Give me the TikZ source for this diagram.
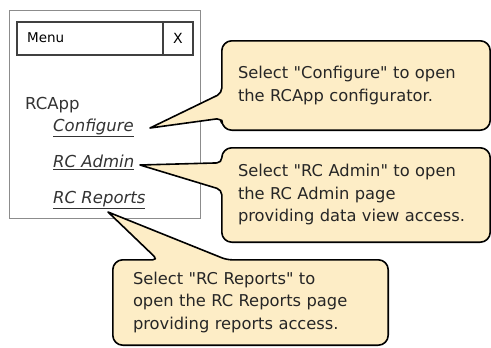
\documentclass[tikz,border=0pt]{standalone}
\usepackage{fontspec}
\setmainfont{DejaVu Sans}[Ligatures=TeXOff]
\usetikzlibrary{backgrounds}
\definecolor{notefill}{HTML}{FDEDC6}
\definecolor{notetext}{HTML}{262626}
\definecolor{framegray}{HTML}{8C8C8C}
\begin{document}
\begin{tikzpicture}[x=1pt,y=-1pt]
    \tikzstyle{every node}+=[inner sep=0pt]
    \tikzstyle{note}=[align=left, inner xsep=16, font=\fontsize{16.3}{22.5}\selectfont, text=notetext]
    \tikzstyle{noteline}=[draw=black, line width=1.6pt, fill=notefill, line join=round]
    \tikzstyle{menuitem}=[anchor=west, font=\fontsize{16.5}{18}\selectfont\itshape, text=black!80]
    \useasboundingbox (0,0) rectangle (491,348);
    % menu window
    \node [anchor=west, font=\fontsize{13.5}{16}\selectfont] (menu) at (27,38) {Menu};
    \node [font=\fontsize{14}{16}\selectfont] (close) at (178,38) {X};
    \node [anchor=west, font=\fontsize{16.5}{18}\selectfont, text=black!80] (app) at (25,105) {RCApp};
    \node [menuitem] (cfg) at (53,128) {\underline{Configure}};
    \node [menuitem] (adm) at (53,162) {\underline{RC Admin}};
    \node [menuitem] (rep) at (53,200) {\underline{RC Reports}};
    % callouts
    \node [note, minimum width=268, minimum height=89, text width=236] (c1) at (356,85.5)
        {Select "Configure" to open\\the RCApp configurator.};
    \node [note, minimum width=268, minimum height=94, text width=236] (c2) at (356,195)
        {Select "RC Admin" to open\\the RC Admin page\\providing data view access.};
    \node [note, inner xsep=20, minimum width=275, minimum height=85, text width=235] (c3) at (250.5,302.5)
        {Select "RC Reports" to\\open the RC Reports page\\providing reports access.};
    \coordinate (t1) at (150,128);
    \coordinate (t2) at (140,165);
    \coordinate (t3) at (108,212);
    \begin{scope}[on background layer]
        \draw [framegray, line width=1pt] (9,10) rectangle (200,218);
        \draw [black!75, line width=1.3pt] (17,22) rectangle (193,55);
        \draw [black!75, line width=1.3pt] (163,22) -- (163,55);
        % callout outlines
        \draw [noteline] (t1) [rounded corners=5] -- ([yshift=12]c1.south west)
            [rounded corners=10] -- (c1.south west) -- (c1.south east) -- (c1.north east) -- (c1.north west)
            [rounded corners=5] -- ([yshift=37]c1.south west) [sharp corners] -- cycle;
        \draw [noteline] (t2) [rounded corners=5] -- ([yshift=-42]c2.north west)
            [rounded corners=10] -- (c2.south west) -- (c2.south east) -- (c2.north east) -- (c2.north west)
            [rounded corners=5] -- ([yshift=-15]c2.north west) [sharp corners] -- cycle;
        \draw [noteline] (t3) [rounded corners=5] -- ([xshift=114]c3.north west)
            [rounded corners=10] -- (c3.north east) -- (c3.south east) -- (c3.south west) -- (c3.north west)
            [rounded corners=5] -- ([xshift=45]c3.north west) [sharp corners] -- cycle;
    \end{scope}
\end{tikzpicture}
\end{document}
